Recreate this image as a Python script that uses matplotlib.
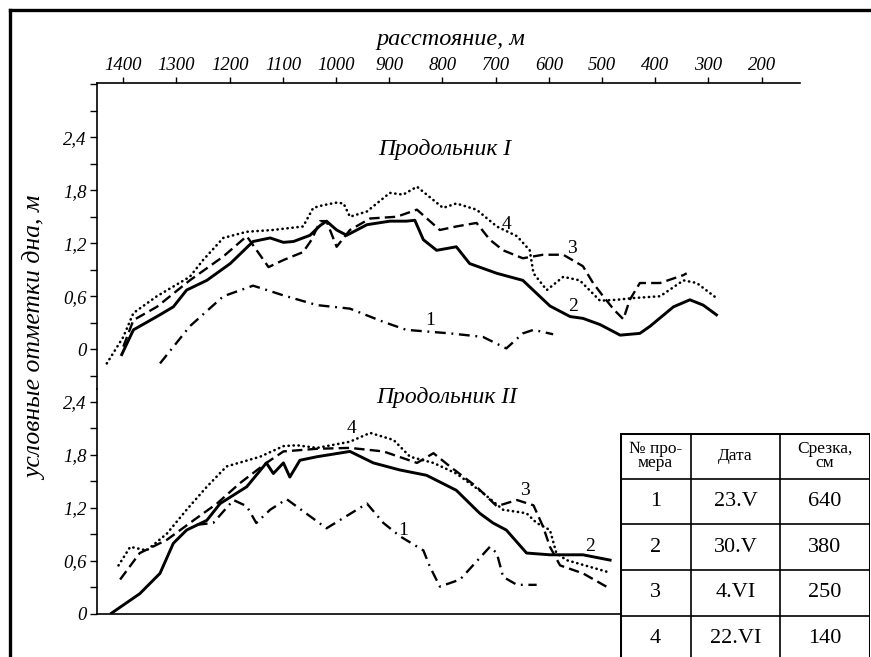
"""Longitudinal bottom profiles (Продольник I / II) for four surveys."""
import matplotlib
matplotlib.use("Agg")
import matplotlib.pyplot as plt
from matplotlib.lines import Line2D
from matplotlib.ticker import FixedLocator, MultipleLocator

# distance along the profile, m  /  relative bottom elevation, m
# --- Продольник I ---
p1_d1 = [1331, 1275, 1212, 1156, 1099, 1036, 974, 911, 868, 786, 724, 680, 649, 629, 592]
p1_y1 = [-0.16, 0.26, 0.60, 0.72, 0.61, 0.50, 0.46, 0.31, 0.22, 0.18, 0.14, 0.01, 0.18, 0.22, 0.17]

p1_d2 = [1403, 1381, 1337, 1306, 1281, 1243, 1199, 1156, 1124, 1099, 1080, 1049, 1030, 1018, 999,
         980, 942, 899, 868, 852, 836, 811, 774, 749, 698, 649, 598, 560, 536, 504, 466, 429, 410,
         366, 335, 310, 285]
p1_y2 = [-0.06, 0.22, 0.37, 0.48, 0.67, 0.78, 0.97, 1.22, 1.26, 1.21, 1.22, 1.29, 1.40, 1.45, 1.35,
         1.29, 1.41, 1.45, 1.45, 1.46, 1.24, 1.12, 1.16, 0.97, 0.86, 0.78, 0.49, 0.37, 0.35, 0.28,
         0.16, 0.18, 0.26, 0.48, 0.56, 0.50, 0.39]

p1_d3 = [1400, 1381, 1337, 1275, 1212, 1168, 1127, 1099, 1062, 1046, 1030, 1018, 999, 974, 936,
         886, 848, 805, 774, 736, 711, 686, 649, 611, 573, 536, 517, 498, 478, 460, 448, 429, 391,
         347, 341]
p1_y3 = [0.03, 0.33, 0.48, 0.78, 1.05, 1.28, 0.93, 1.01, 1.10, 1.24, 1.45, 1.45, 1.16, 1.35, 1.48,
         1.50, 1.58, 1.35, 1.39, 1.43, 1.24, 1.12, 1.03, 1.07, 1.07, 0.94, 0.75, 0.60, 0.45, 0.34,
         0.56, 0.75, 0.75, 0.84, 0.86]

p1_d4 = [1431, 1400, 1381, 1337, 1275, 1250, 1212, 1168, 1119, 1062, 1043, 1025, 999, 986, 974,
         942, 899, 874, 848, 799, 774, 736, 698, 660, 636, 629, 604, 573, 542, 504, 473, 441, 391,
         347, 322, 285]
p1_y4 = [-0.16, 0.14, 0.41, 0.60, 0.82, 1.01, 1.26, 1.33, 1.35, 1.39, 1.60, 1.63, 1.66, 1.65, 1.50,
         1.56, 1.77, 1.75, 1.84, 1.60, 1.65, 1.58, 1.39, 1.28, 1.12, 0.86, 0.67, 0.82, 0.78, 0.55,
         0.56, 0.58, 0.60, 0.78, 0.75, 0.58]

# --- Продольник II ---
p2_d1 = [1262, 1231, 1193, 1168, 1150, 1124, 1093, 1018, 942, 911, 880, 836, 824, 805, 767, 711,
         698, 686, 660, 623]
p2_y1 = [1.01, 1.03, 1.29, 1.22, 1.03, 1.18, 1.30, 0.97, 1.25, 1.03, 0.88, 0.72, 0.54, 0.31, 0.39,
         0.76, 0.69, 0.42, 0.33, 0.33]

p2_d2 = [1422, 1369, 1331, 1306, 1281, 1243, 1218, 1168, 1131, 1118, 1099, 1087, 1068, 1036, 974,
         930, 880, 830, 774, 730, 705, 680, 642, 598, 536, 485]
p2_y2 = [0.01, 0.23, 0.46, 0.80, 0.95, 1.06, 1.25, 1.44, 1.71, 1.59, 1.71, 1.55, 1.74, 1.78, 1.84,
         1.71, 1.63, 1.57, 1.40, 1.14, 1.03, 0.95, 0.69, 0.67, 0.67, 0.61]

p2_d3 = [1406, 1369, 1318, 1268, 1224, 1181, 1131, 1099, 1036, 974, 911, 848, 817, 786, 736, 698,
         660, 629, 611, 598, 579, 536, 492]
p2_y3 = [0.39, 0.69, 0.84, 1.06, 1.25, 1.48, 1.71, 1.84, 1.87, 1.88, 1.84, 1.71, 1.82, 1.67, 1.44,
         1.22, 1.29, 1.23, 0.99, 0.76, 0.55, 0.46, 0.31]

p2_d4 = [1409, 1387, 1356, 1318, 1281, 1243, 1206, 1143, 1099, 1074, 1036, 974, 936, 892, 861, 817,
         774, 724, 686, 642, 623, 598, 586, 567, 492]
p2_y4 = [0.55, 0.76, 0.72, 0.91, 1.18, 1.44, 1.67, 1.78, 1.90, 1.91, 1.88, 1.95, 2.05, 1.97, 1.78,
         1.71, 1.59, 1.37, 1.18, 1.14, 1.03, 0.95, 0.69, 0.61, 0.48]

# curve number labels: (text, distance, elevation)
p1_labels = [("1", 823, 0.33), ("2", 555, 0.48), ("3", 557, 1.14), ("4", 679, 1.41)]
p2_labels = [("1", 874, 0.95), ("2", 523, 0.76), ("3", 645, 1.40), ("4", 971, 2.10)]

x_ticks = [1400, 1300, 1200, 1100, 1000, 900, 800, 700, 600, 500, 400, 300, 200]
y_ticks = [0, 0.6, 1.2, 1.8, 2.4]

table_header = ["№ про-\nмера", "Дата", "Срезка,\nсм"]
survey_no = ["1", "2", "3", "4"]
survey_date = ["23.V", "30.V", "4.VI", "22.VI"]
cut_cm = ["640", "380", "250", "140"]

STYLES = {
    1: dict(color="black", lw=1.7, linestyle=(0, (4.6, 2.4, 0.8, 2.4))),
    2: dict(color="black", lw=2.1, linestyle="-"),
    3: dict(color="black", lw=1.7, linestyle=(0, (4.4, 2.2))),
    4: dict(color="black", lw=1.9, linestyle=(0, (0.1, 1.8)), dash_capstyle="round"),
}

SERIF = ["Liberation Serif", "DejaVu Serif"]
W, H = 871, 657


def fx(px):
    return px / W


def fy(py):
    return 1 - py / H


def fmt(v):
    return "0" if v == 0 else f"{v:.1f}".replace(".", ",")


fig = plt.figure(figsize=(W / 100, H / 100), dpi=100)

# outer frame
fig.add_artist(Line2D([fx(10), fx(10)], [fy(9.5), 0], color="black", lw=2.4))
fig.add_artist(Line2D([fx(10), 1], [fy(9.5), fy(9.5)], color="black", lw=2.4))

ax1 = fig.add_axes([fx(96.7), fy(388.7), fx(800) - fx(96.7), fy(83.3) - fy(388.7)])
ax2 = fig.add_axes([fx(96.7), fy(614), fx(800) - fx(96.7), fy(388.7) - fy(614)])

for ax in (ax1, ax2):
    ax.set_xlim(1450, 128)
    ax.patch.set_visible(False)
    ax.spines["right"].set_visible(False)
    for s in ("left", "top", "bottom"):
        ax.spines[s].set_linewidth(1.2)
    ax.yaxis.set_major_locator(FixedLocator(y_ticks))
    ax.set_yticklabels([fmt(v) for v in y_ticks], fontstyle="italic", family=SERIF, fontsize=13.5)
    ax.yaxis.set_minor_locator(MultipleLocator(0.3))
    ax.tick_params(axis="y", which="both", direction="out", length=5, width=1.0, pad=2)

ax1.set_ylim(-0.446, 3.01)
ax1.spines["bottom"].set_visible(False)
ax1.xaxis.tick_top()
ax1.xaxis.set_major_locator(FixedLocator(x_ticks))
ax1.set_xticklabels([str(v) for v in x_ticks], fontstyle="italic", family=SERIF, fontsize=13.5)
ax1.tick_params(axis="x", direction="out", length=4.5, width=1.0, pad=2.5)

ax2.set_ylim(0, 2.55)
ax2.spines["top"].set_visible(False)
ax2.spines["bottom"].set_bounds(1450, 466)
ax2.set_xticks([])

ax1.plot(p1_d1, p1_y1, **STYLES[1])
ax1.plot(p1_d2, p1_y2, **STYLES[2])
ax1.plot(p1_d3, p1_y3, **STYLES[3])
ax1.plot(p1_d4, p1_y4, **STYLES[4])
ax2.plot(p2_d1, p2_y1, **STYLES[1])
ax2.plot(p2_d2, p2_y2, **STYLES[2])
ax2.plot(p2_d3, p2_y3, **STYLES[3])
ax2.plot(p2_d4, p2_y4, **STYLES[4])

for ax, labels in ((ax1, p1_labels), (ax2, p2_labels)):
    for txt, d, v in labels:
        ax.text(d, v, txt, ha="center", va="center", family=SERIF, fontsize=14)

ax1.text(795, 2.26, "Продольник I", ha="center", va="center", family=SERIF,
         fontstyle="italic", fontsize=17)
ax2.text(792, 2.45, "Продольник II", ha="center", va="center", family=SERIF,
         fontstyle="italic", fontsize=17)

fig.text(fx(451), fy(39), "расстояние, м", ha="center", va="center", family=SERIF,
         fontstyle="italic", fontsize=17.5)
fig.text(fx(36), fy(338), "условные отметки дна, м", ha="center", va="center", rotation=90,
         family=SERIF, fontstyle="italic", fontsize=18.5)

# table in the lower right corner
tab = fig.add_axes([fx(620), fy(661), fx(870) - fx(620), fy(433) - fy(661)])
tab.set_xlim(0, 250)
tab.set_ylim(228, 0)
tab.axis("off")
tab.add_patch(plt.Rectangle((0, 0), 250, 228, facecolor="white", edgecolor="black", lw=2.2))
col_edges = [0, 71, 160, 250]
row_edges = [0, 46.3, 91.3, 137, 182.7, 228]
for c in col_edges[1:-1]:
    tab.plot([c, c], [0, 228], color="black", lw=1.2)
for r in row_edges[1:-1]:
    tab.plot([0, 250], [r, r], color="black", lw=1.2)
for j, head in enumerate(table_header):
    tab.text((col_edges[j] + col_edges[j + 1]) / 2, row_edges[1] / 2, head, ha="center",
             va="center", family=SERIF, fontsize=12.5, linespacing=0.85)
for i in range(len(survey_no)):
    yc = (row_edges[i + 1] + row_edges[i + 2]) / 2
    for j, val in enumerate((survey_no[i], survey_date[i], cut_cm[i])):
        tab.text((col_edges[j] + col_edges[j + 1]) / 2, yc, val, ha="center", va="center",
                 family=SERIF, fontsize=16)

fig.savefig("out.png", dpi=100)
